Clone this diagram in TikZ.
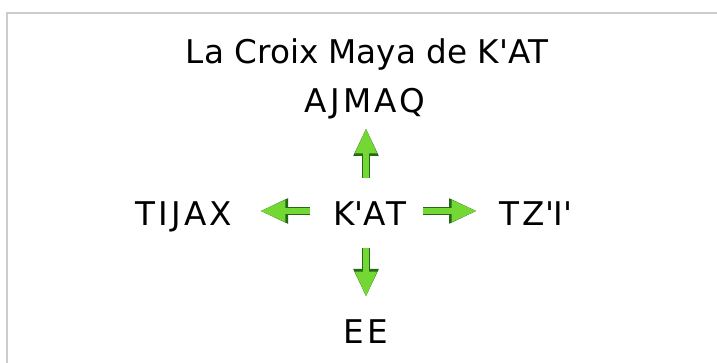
\documentclass[tikz,border=0pt]{standalone}
\usepackage{fontspec}
\setmainfont{DejaVu Sans}
\newfontfamily\espace{DejaVu Sans}[LetterSpace=10]
\usetikzlibrary{arrows.meta}
\definecolor{flechevert}{RGB}{116,216,52}
\definecolor{flechesombre}{RGB}{38,104,22}
\definecolor{cadre}{RGB}{204,204,204}
\newcommand{\apos}{\textquotesingle}

\begin{document}
\begin{tikzpicture}[x=0.75pt,y=-0.75pt,
  mot/.style={font=\fontsize{24.5}{29}\selectfont, inner sep=0pt, text height=0.73em, text depth=0pt},
  motcap/.style={mot, font=\fontsize{24.5}{29}\espace},
  fleche/.style={line width=5pt, draw=flechevert, -{Triangle[length=19pt,width=15pt]},
    preaction={draw=flechesombre, line width=6.5pt, -{Triangle[length=21pt,width=17.5pt]}}}]
\useasboundingbox (0,0) rectangle (717,363);
\draw[cadre, line width=1.5pt] (717,13) -- (7,13) -- (7,363);

\node[mot] (titre) at (367,59) {La Croix Maya de K\apos AT};
\node[motcap] (ajmaq) at (365,108) {AJMAQ};
\node[motcap] (kat) at (370,221) {K\apos AT};
\node[motcap] (tijax) at (184,221) {TIJAX};
\node[motcap] (tzi) at (536,221) {TZ\apos I\apos};
\node[motcap] (ee) at (366,339) {EE};

% les quatre directions
\draw[fleche, shorten <=32.25pt, shorten >=15pt] ([xshift=-3pt]kat.center) -- (ajmaq.center -| 366,0);
\draw[fleche, shorten <=20.25pt, shorten >=31.5pt] ([xshift=-3pt]kat.center) -- (ee.center -| 366,0);
\draw[fleche, shorten <=45pt, shorten >=57pt] ([yshift=7.5pt]kat.center) -- ([yshift=7.5pt]tijax.center);
\draw[fleche, shorten <=40pt, shorten >=44.25pt] ([yshift=7.5pt]kat.center) -- ([yshift=7.5pt]tzi.center);

\end{tikzpicture}
\end{document}
